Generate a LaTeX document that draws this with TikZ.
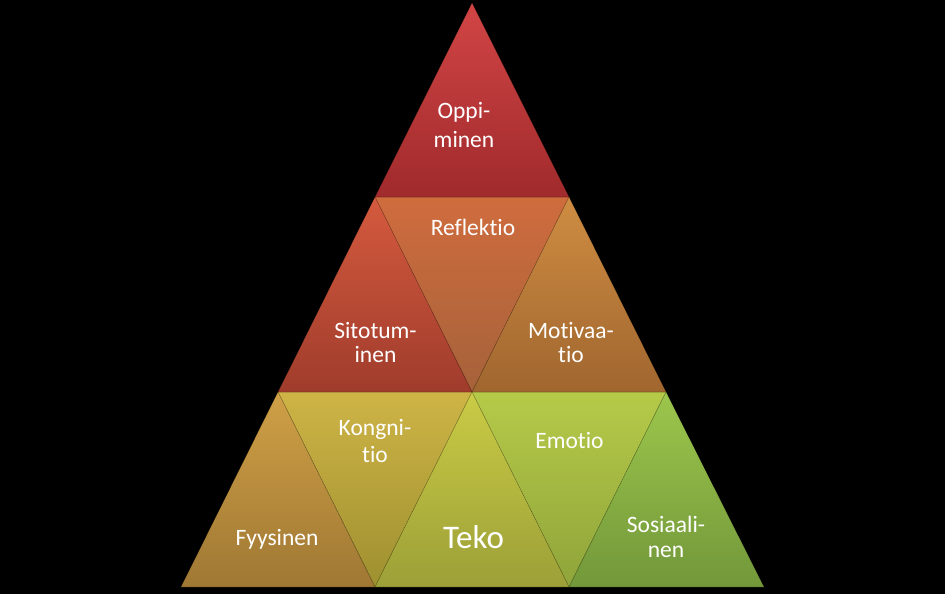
\documentclass[tikz,border=0pt]{standalone}
\usepackage{fontspec}
\setmainfont{Carlito}[Ligatures=CommonOff]
\definecolor{cAt}{HTML}{D24545}\definecolor{cAb}{HTML}{A02A2C}
\definecolor{cBt}{HTML}{D45A3E}\definecolor{cBb}{HTML}{A03C2C}
\definecolor{cCt}{HTML}{CF6C3E}\definecolor{cCb}{HTML}{A6623A}
\definecolor{cDt}{HTML}{CF8D42}\definecolor{cDb}{HTML}{A0662F}
\definecolor{cEt}{HTML}{CFA046}\definecolor{cEb}{HTML}{A07834}
\definecolor{cFt}{HTML}{CEB446}\definecolor{cFb}{HTML}{9E9030}
\definecolor{cGt}{HTML}{CACB45}\definecolor{cGb}{HTML}{9CA037}
\definecolor{cHt}{HTML}{B6CA49}\definecolor{cHb}{HTML}{8FA43A}
\definecolor{cIt}{HTML}{9CC64C}\definecolor{cIb}{HTML}{72983A}
\tikzset{
  tri/.style={draw=black, draw opacity=0.18, line width=0.6pt, line join=miter},
  lbl/.style={text=white, align=center, inner sep=0pt, anchor=base, font=\fontsize{23.5}{26}\selectfont},
  big/.style={text=white, inner sep=0pt, anchor=base, font=\fontsize{33}{38}\selectfont}
}
\begin{document}
\begin{tikzpicture}[x=1pt,y=-1pt]
\useasboundingbox (0,0) rectangle (945,594);
\fill[black] (0,0) rectangle (945,594);
% coordinates
\coordinate (a) at (472,3);
\coordinate (l1) at (375,197); \coordinate (r1) at (569,197);
\coordinate (p0) at (278,392); \coordinate (p1) at (472,392); \coordinate (p2) at (666,392);
\coordinate (q0) at (181,587); \coordinate (q1) at (375,587); \coordinate (q2) at (569,587); \coordinate (q3) at (764,587);
% downward triangles
\shade[tri, top color=cCt, bottom color=cCb] (l1) -- (r1) -- (p1) -- cycle;
\shade[tri, top color=cFt, bottom color=cFb] (p0) -- (p1) -- (q1) -- cycle;
\shade[tri, top color=cHt, bottom color=cHb] (p1) -- (p2) -- (q2) -- cycle;
% upward triangles
\shade[tri, top color=cAt, bottom color=cAb] (a) -- (l1) -- (r1) -- cycle;
\shade[tri, top color=cBt, bottom color=cBb] (l1) -- (p0) -- (p1) -- cycle;
\shade[tri, top color=cDt, bottom color=cDb] (r1) -- (p1) -- (p2) -- cycle;
\shade[tri, top color=cEt, bottom color=cEb] (p0) -- (q0) -- (q1) -- cycle;
\shade[tri, top color=cGt, bottom color=cGb] (p1) -- (q1) -- (q2) -- cycle;
\shade[tri, top color=cIt, bottom color=cIb] (p2) -- (q2) -- (q3) -- cycle;
% labels (base anchor = last line baseline)
\node[lbl, font=\fontsize{23.5}{28.5}\selectfont] (oppi) at (464,147) {Oppi-\\minen};
\node[lbl] (refl) at (473,235) {Reflektio};
\node[lbl, font=\fontsize{23.5}{24}\selectfont] (sito) at (375.5,362.5) {Sitotum-\\inen};
\node[lbl, font=\fontsize{23.5}{24}\selectfont] (moti) at (571,362.5) {Motivaa-\\tio};
\node[lbl, font=\fontsize{23.5}{27}\selectfont] (kong) at (375,462) {Kongni-\\tio};
\node[lbl] (emot) at (569.5,448) {Emotio};
\node[lbl] (fyys) at (277,545) {Fyysinen};
\node[big] (teko) at (473.5,548) {Teko};
\node[lbl, font=\fontsize{23.5}{24.5}\selectfont] (sosi) at (666,557) {Sosiaali-\\nen};
\end{tikzpicture}
\end{document}
